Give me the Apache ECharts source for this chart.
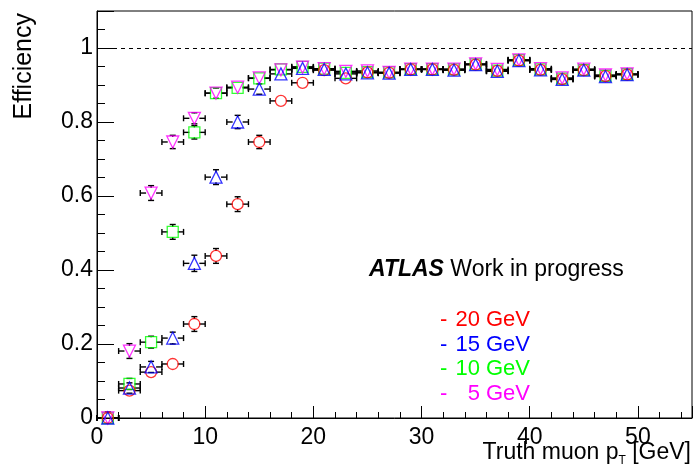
<!DOCTYPE html>
<html>
<head>
<meta charset="utf-8">
<script src="https://cdn.jsdelivr.net/npm/echarts@6/dist/echarts.min.js"></script>
<style>
html,body{margin:0;padding:0;background:#fff;}
#main{width:695px;height:473px;}
</style>
</head>
<body>
<div id="main"></div>
<script>
// bin centres (truth muon pT, GeV), bins are 2 GeV wide
var ptBins = [1,3,5,7,9,11,13,15,17,19,21,23,25,27,29,31,33,35,37,39,41,43,45,47,49];
var binHalf = 1;

// efficiency per threshold
var eff20 = [0.0,0.074,0.124,0.146,0.254,0.438,0.578,0.746,0.857,0.906,0.940,0.918,0.934,0.933,0.942,0.942,0.941,0.955,0.938,0.966,0.941,0.916,0.940,0.924,0.928];
var eff15 = [0.0,0.081,0.138,0.216,0.418,0.651,0.800,0.889,0.930,0.945,0.942,0.930,0.933,0.932,0.942,0.942,0.940,0.955,0.937,0.966,0.941,0.915,0.940,0.923,0.928];
var eff10 = [0.0,0.092,0.205,0.503,0.772,0.878,0.892,0.918,0.942,0.949,0.944,0.933,0.935,0.934,0.943,0.943,0.942,0.956,0.939,0.967,0.942,0.917,0.941,0.925,0.929];
var eff5  = [0.0,0.181,0.608,0.746,0.810,0.878,0.894,0.919,0.941,0.948,0.944,0.937,0.938,0.934,0.943,0.943,0.943,0.957,0.942,0.968,0.944,0.919,0.943,0.927,0.930];

// vertical errors
var err20 = [0.012,0.012,0.013,0.012,0.020,0.020,0.020,0.018,0.012,0.010,0.008,0.008,0.007,0.007,0.006,0.006,0.006,0.005,0.006,0.005,0.006,0.007,0.006,0.006,0.006];
var err15 = [0.012,0.014,0.015,0.016,0.022,0.020,0.018,0.014,0.010,0.008,0.007,0.007,0.007,0.007,0.006,0.006,0.006,0.005,0.006,0.005,0.006,0.007,0.006,0.006,0.006];
var err10 = [0.012,0.015,0.016,0.020,0.018,0.014,0.012,0.010,0.008,0.007,0.007,0.007,0.007,0.007,0.006,0.006,0.006,0.005,0.006,0.005,0.006,0.007,0.006,0.006,0.006];
var err5  = [0.017,0.020,0.020,0.018,0.015,0.012,0.010,0.009,0.008,0.007,0.007,0.007,0.007,0.007,0.006,0.006,0.006,0.005,0.006,0.005,0.006,0.007,0.006,0.006,0.006];

var FONT = '"Liberation Sans", Arial, Helvetica, sans-serif';

var myChart = echarts.init(document.getElementById('main'));

function toPoints(eff, err){
	var arr = [];
	for(var i = 0; i < ptBins.length; i++){
		arr.push([ptBins[i], eff[i], err[i]]);
	}
	return arr;
}

//误差棒
function renderErr(params, api){
	var x = api.value(0), y = api.value(1), e = api.value(2);
	var c = api.coord([x, y]);
	var pl = api.coord([x - binHalf, y])[0];
	var pr = api.coord([x + binHalf, y])[0];
	var pt = api.coord([x, Math.min(y + e, 1.1)])[1];
	var pb = api.coord([x, Math.max(y - e, 0)])[1];
	var gap = 5, cap = 3;
	var segs = [];
	function seg(x1, y1, x2, y2){
		segs.push({type:'line', shape:{x1:x1, y1:y1, x2:x2, y2:y2}, style:{stroke:'#000', lineWidth:1.4}});
	}
	seg(pl, c[1], c[0] - gap, c[1]);
	seg(c[0] + gap, c[1], pr, c[1]);
	seg(pl, c[1] - cap, pl, c[1] + cap);
	seg(pr, c[1] - cap, pr, c[1] + cap);
	if(c[1] - pt > gap){
		seg(c[0], c[1] - gap, c[0], pt);
		seg(c[0] - cap, pt, c[0] + cap, pt);
	}
	if(pb - c[1] > gap){
		seg(c[0], c[1] + gap, c[0], pb);
		seg(c[0] - cap, pb, c[0] + cap, pb);
	}
	return {type:'group', children:segs};
}

var sets = [
	{name:'10 GeV', eff:eff10, err:err10, color:'#00ff00', symbol:'rect', size:11, rot:0},
	{name:'5 GeV',  eff:eff5,  err:err5,  color:'#ff00ff', symbol:'triangle', size:12, rot:180},
	{name:'20 GeV', eff:eff20, err:err20, color:'#ff0000', symbol:'circle', size:11, rot:0},
	{name:'15 GeV', eff:eff15, err:err15, color:'#0000ff', symbol:'triangle', size:12, rot:0}
];

var series = [];
for(var i = 0; i < sets.length; i++){
	series.push({
		type:'custom', name:sets[i].name + ' err', xAxisIndex:0, yAxisIndex:0,
		renderItem:renderErr, data:toPoints(sets[i].eff, sets[i].err),
		encode:{x:0, y:1}, z:2, silent:true
	});
}
for(var i = 0; i < sets.length; i++){
	series.push({
		type:'scatter', name:sets[i].name, xAxisIndex:0, yAxisIndex:0,
		data:toPoints(sets[i].eff, sets[i].err),
		symbol:sets[i].symbol, symbolSize:sets[i].size, symbolRotate:sets[i].rot,
		itemStyle:{color:'rgba(0,0,0,0)', borderColor:sets[i].color, borderWidth:1.3},
		z:3, silent:true
	});
}
// 1 的虚线
series[0].markLine = {
	silent:true, symbol:'none', label:{show:false},
	lineStyle:{color:'#000', type:[4,4], width:1},
	data:[{yAxis:1}]
};

var option = {
	animation:false,
	grid:{left:97, right:3, top:11, bottom:55, show:true, borderColor:'#000', borderWidth:1, backgroundColor:'transparent'},
	xAxis:[{
		type:'value', min:0, max:55, interval:10, position:'bottom',
		axisLine:{show:true, lineStyle:{color:'#000', width:1}},
		axisTick:{show:true, inside:true, length:12, lineStyle:{color:'#000'}},
		axisLabel:{fontFamily:FONT, fontSize:23, color:'#000', margin:8,
			formatter:function(v){ return v > 54 ? '' : String(v); }},
		splitLine:{show:false}
	},{
		type:'value', min:0, max:55, interval:2, position:'bottom',
		axisLine:{show:false},
		axisTick:{show:true, inside:true, length:6, lineStyle:{color:'#000'}},
		axisLabel:{show:false}, splitLine:{show:false}
	}],
	yAxis:[{
		type:'value', min:0, max:1.1, interval:0.2, position:'left',
		axisLine:{show:true, lineStyle:{color:'#000', width:1}},
		axisTick:{show:true, inside:true, length:17, lineStyle:{color:'#000'}},
		axisLabel:{fontFamily:FONT, fontSize:23, color:'#000', margin:4,
			formatter:function(v){ return v > 1.05 ? '' : String(Math.round(v * 10) / 10); }},
		splitLine:{show:false}
	},{
		type:'value', min:0, max:1.1, interval:0.05, position:'left',
		axisLine:{show:false},
		axisTick:{show:true, inside:true, length:8, lineStyle:{color:'#000'}},
		axisLabel:{show:false}, splitLine:{show:false}
	}],
	graphic:[
		{type:'text', x:24, y:13, rotation:Math.PI / 2,
			style:{text:'Efficiency', font:'25px ' + FONT, fill:'#000', align:'right', verticalAlign:'middle'}},
		{type:'text', x:691, y:453,
			style:{text:'Truth muon p{sub|T} [GeV]', font:'23px ' + FONT, fill:'#000', align:'right', verticalAlign:'middle',
				rich:{sub:{fontFamily:FONT, fontSize:12, padding:[16,0,0,0], fill:'#000'}}}},
		{type:'text', x:369, y:270,
			style:{text:'{a|ATLAS} Work in progress', font:'23px ' + FONT, fill:'#000', align:'left', verticalAlign:'middle',
				rich:{a:{fontFamily:FONT, fontSize:23, fontStyle:'italic', fontWeight:'bold', fill:'#000'}}}},
		{type:'text', x:440, y:320, style:{text:'-', font:'22px ' + FONT, fill:'#ff0000', verticalAlign:'middle'}},
		{type:'text', x:530, y:320, style:{text:'20 GeV', font:'22px ' + FONT, fill:'#ff0000', align:'right', verticalAlign:'middle'}},
		{type:'text', x:440, y:345, style:{text:'-', font:'22px ' + FONT, fill:'#0000ff', verticalAlign:'middle'}},
		{type:'text', x:530, y:345, style:{text:'15 GeV', font:'22px ' + FONT, fill:'#0000ff', align:'right', verticalAlign:'middle'}},
		{type:'text', x:440, y:369, style:{text:'-', font:'22px ' + FONT, fill:'#00ff00', verticalAlign:'middle'}},
		{type:'text', x:530, y:369, style:{text:'10 GeV', font:'22px ' + FONT, fill:'#00ff00', align:'right', verticalAlign:'middle'}},
		{type:'text', x:440, y:394, style:{text:'-', font:'22px ' + FONT, fill:'#ff00ff', verticalAlign:'middle'}},
		{type:'text', x:530, y:394, style:{text:'5 GeV', font:'22px ' + FONT, fill:'#ff00ff', align:'right', verticalAlign:'middle'}}
	],
	series:series
};
myChart.setOption(option);
</script>
</body>
</html>
